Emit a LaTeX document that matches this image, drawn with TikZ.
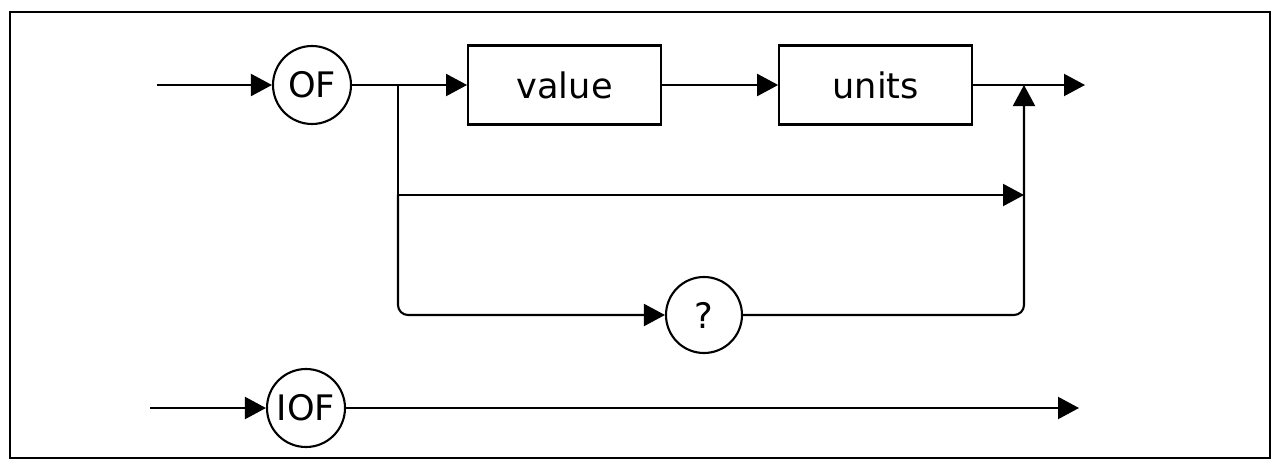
\documentclass[tikz,border=0pt]{standalone}
\usepackage{fontspec}
\setmainfont{DejaVu Sans}
\usepackage{tikz}
\usetikzlibrary{arrows.meta, calc, positioning}

\begin{document}
\begin{tikzpicture}[auto, >={Triangle[length=0.42cm, width=0.44cm]}, line width=1.2pt]
        % --- STYLES ---
        \tikzset{
            word/.style={draw, circle, minimum size=1.56cm, inner sep=0pt, font=\fontsize{20}{24}\selectfont},
            block/.style={draw, rectangle, minimum width=3.86cm, minimum height=1.58cm, inner sep=0pt, font=\fontsize{20}{24}\selectfont},
            frame/.style={draw, rectangle, minimum width=25.2cm, minimum height=8.92cm, line width=1.4pt},
            input/.style={coordinate},
            output/.style={coordinate}
        }
        \useasboundingbox (0,0) rectangle (25.54,-9.44);

        % --- FRAME ---
        \node [frame] (border) at (12.8,-4.7) {};

        % --- ROW 1: OF ---
        \node [input] (in_of) at (3.14,-1.7) {};
        \node [word] (of) at (6.24,-1.7) {OF};
        \coordinate (split) at (7.96,-1.7);
        \node [block, right=2.3cm of of] (value) {value};
        \node [block, right=2.32cm of value] (units) {units};
        \coordinate (join) at (20.48,-1.7);
        \node [output] (out_of) at (21.7,-1.7) {};

        % --- BYPASS AND QUERY ---
        \coordinate (split_mid) at (7.96,-3.9);
        \coordinate (join_mid) at (20.48,-3.9);
        \node [word, minimum size=1.52cm] (query) at (14.08,-6.3) {?};

        % --- ROW 2: IOF ---
        \node [input] (in_iof) at (3.0,-8.16) {};
        \node [word] (iof) at (6.12,-8.16) {IOF};
        \node [output] (out_iof) at (21.58,-8.16) {};

        % --- CONNECTIONS ---
        \draw [->] (in_of) -- (of);
        \draw (of) -- (split);
        \draw [->] (split) -- (value);
        \draw [->] (value) -- (units);
        \draw [->] (units) -- (out_of);

        \draw (split) -- (split_mid);
        \draw [->] (split_mid) -- (join_mid);
        \draw [->, rounded corners=0.2cm] (split_mid) |- (query);
        \draw [->, rounded corners=0.2cm] (query) -| (join);

        \draw [->] (in_iof) -- (iof);
        \draw [->] (iof) -- (out_iof);

    \end{tikzpicture}
\end{document}
